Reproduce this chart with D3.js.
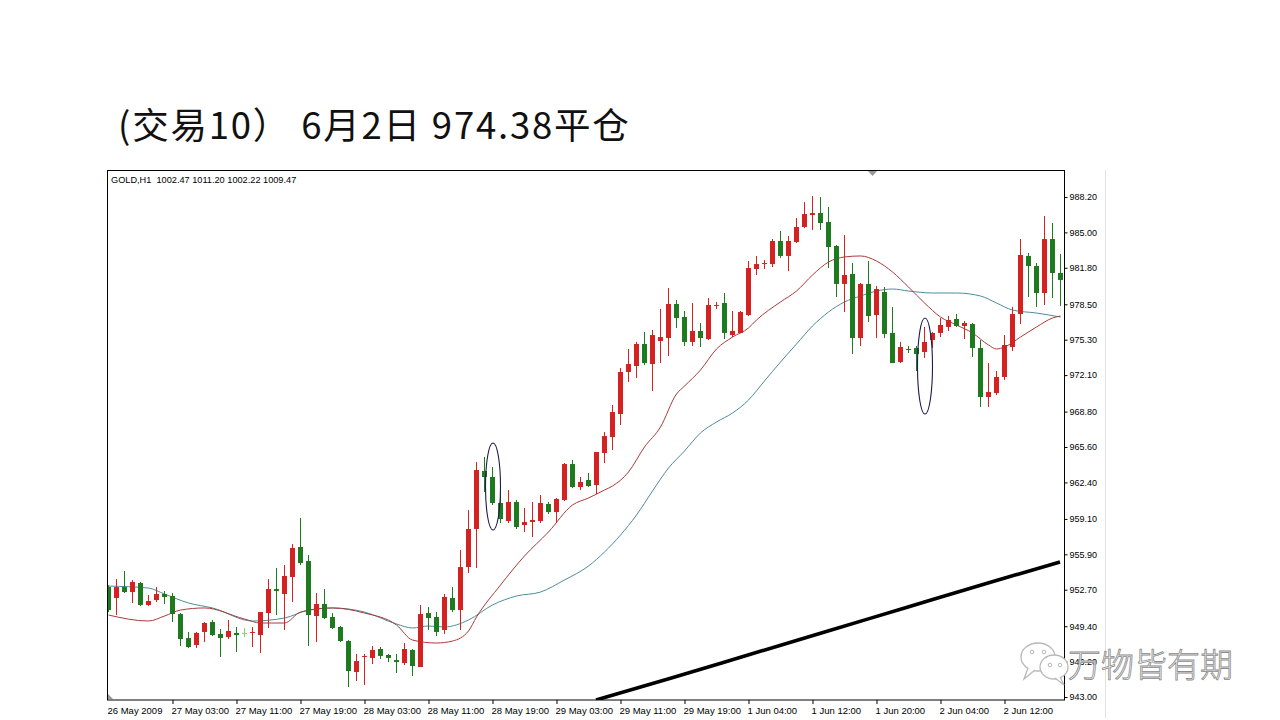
<!DOCTYPE html>
<html><head><meta charset="utf-8">
<script src="https://cdn.jsdelivr.net/npm/d3@7"></script>
<style>body{margin:0;background:#fff;} svg{display:block}</style>
</head><body><svg id="c" width="1280" height="720"></svg>
<script>
// ---- data (GOLD H1, bar index 0 = 26 May 2009 19:00) ----
const opens=[952.94,951.95,952.94,952.49,953.31,951.32,951.77,952.31,952.13,950.50,
948.33,947.70,948.88,949.78,948.70,948.42,948.79,948.80,948.83,948.60,
950.59,952.76,952.31,953.85,956.56,955.29,950.32,951.41,950.23,949.33,
948.06,945.26,946.62,946.53,947.34,946.80,946.34,946.07,947.25,945.71,
950.59,950.23,949.06,951.95,950.86,954.75,958.19,963.43,962.89,960.54,
958.91,960.63,958.55,958.82,958.91,960.45,959.72,960.81,964.06,961.98,
962.62,962.16,965.06,966.50,968.58,972.38,972.92,974.91,973.10,975.18,
975.45,978.53,977.35,975.10,976.09,975.36,978.35,978.62,975.72,975.91,
977.53,981.69,982.19,982.14,984.22,982.87,984.13,985.49,986.57,986.75,
985.94,983.77,980.34,981.24,975.45,980.34,977.53,979.61,975.91,973.28,
974.46,974.55,974.19,975.27,975.91,976.45,977.17,976.54,976.72,974.55,
970.12,970.48,971.93,974.64,977.62,982.87,981.96,979.52,984.40,981.33];
const highs=[953.10,953.67,954.39,953.58,953.40,952.22,952.94,952.58,952.40,950.59,
948.88,948.88,949.78,949.96,949.15,949.96,949.33,949.24,949.33,950.68,
953.67,954.66,954.93,956.83,959.18,955.84,952.40,952.76,950.59,949.42,
948.15,946.89,946.89,947.61,947.52,946.89,946.89,947.88,947.34,951.32,
951.14,950.68,952.31,952.94,956.29,959.90,964.24,964.70,963.79,961.80,
961.71,960.81,960.09,960.63,961.26,960.63,960.99,964.15,964.42,962.89,
963.25,965.15,966.96,969.40,972.74,974.46,975.10,976.00,976.18,978.08,
979.97,978.89,977.89,978.62,976.81,979.07,978.71,979.52,977.89,977.89,
982.41,982.87,982.50,984.40,985.13,984.67,986.30,987.75,988.28,988.19,
987.30,983.86,984.76,982.23,980.43,982.41,980.15,980.06,978.26,975.10,
974.73,974.73,976.45,976.00,977.26,977.44,977.62,976.99,976.81,975.27,
973.19,972.47,975.72,978.26,984.40,983.14,982.23,986.48,985.85,983.05];
const lows=[950.68,950.41,952.40,951.50,951.23,951.23,951.59,951.41,949.78,947.61,
947.43,947.43,947.97,948.51,946.62,948.24,947.07,948.42,947.52,946.98,
949.24,950.41,949.06,951.59,954.93,947.61,947.97,950.05,949.15,947.97,
943.90,944.45,944.08,945.98,946.44,946.16,945.17,945.89,944.90,945.71,
949.06,948.51,948.70,950.68,949.06,954.21,954.66,961.53,960.36,958.73,
958.73,958.19,957.92,957.46,958.73,959.54,958.73,960.72,961.89,961.71,
961.98,961.35,964.15,965.33,967.59,971.48,971.84,973.01,970.66,973.19,
973.83,976.36,974.73,974.73,974.64,975.27,978.08,975.36,975.54,975.91,
977.44,981.15,981.69,981.87,982.69,981.50,984.04,985.39,985.21,985.22,
981.78,979.16,977.80,974.01,974.73,976.90,975.45,975.45,973.19,973.19,
974.10,972.47,973.65,974.55,975.54,976.09,976.45,975.36,973.74,969.22,
969.22,970.30,971.66,974.28,976.72,979.16,978.26,978.44,979.07,978.35];
const closes=[950.86,952.94,952.49,953.40,951.32,951.68,952.31,952.04,950.50,948.24,
947.52,948.79,949.69,948.60,948.33,948.97,948.60,948.80,948.88,950.68,
952.76,952.58,953.94,956.47,955.11,950.41,951.41,950.14,949.24,948.06,
945.35,946.25,946.71,947.25,946.71,946.53,946.16,947.34,945.80,950.50,
950.14,948.88,952.04,950.86,954.75,958.19,963.52,962.89,960.54,959.09,
960.63,958.37,958.82,959.00,960.54,959.72,960.90,964.06,961.98,962.44,
962.07,965.15,966.59,968.76,972.38,973.10,974.91,973.19,975.72,975.54,
978.53,977.26,975.10,976.09,975.45,978.44,978.44,975.91,976.09,977.80,
981.78,982.14,982.23,984.22,982.87,984.22,985.49,986.66,986.75,985.85,
983.68,980.34,981.15,975.45,980.34,977.44,979.88,975.82,973.19,974.64,
974.37,974.01,975.10,975.91,976.63,977.08,976.54,976.81,974.55,970.12,
970.57,971.93,974.82,977.62,982.96,981.96,979.52,984.40,981.33,980.70];

// moving averages (bar index, price)
const maFastIdx=[0,5,7,9,12,17,19,22,24,28,32,36,38,41,43,45,46,49,52,55,58,60,62,63,65,67,69,71,72,74,76,78,80,81,84,86,88,90,92,94,96,98,100,102,104,106,108,110,111,112,114,116,118,119];
const maFast=[950.41,949.87,950.32,950.86,951.05,950.05,949.69,949.69,950.68,951.05,950.59,949.51,948.15,947.88,948.06,948.97,950.23,953.12,955.75,957.92,960.36,960.99,961.71,962.07,963.34,965.60,967.41,970.39,971.11,972.56,974.46,975.54,976.36,977.08,978.71,979.70,981.15,982.32,982.78,982.87,982.41,981.42,980.06,978.62,977.35,976.63,975.91,974.82,974.46,974.64,975.54,976.45,977.26,977.44];
const maSlowIdx=[0,5,7,10,13,18,22,25,28,32,36,38,40,42,45,48,51,54,57,60,62,64,66,68,70,72,74,76,78,80,82,84,86,88,90,92,94,96,98,100,103,106,109,111,113,116,119];
const maSlow=[953.03,952.85,952.31,951.50,951.05,949.87,950.14,950.86,951.05,950.68,949.60,949.24,949.42,949.33,949.96,951.32,952.13,952.49,953.58,954.84,956.11,957.64,959.45,961.62,963.70,965.24,966.87,967.86,968.67,969.85,971.57,973.28,974.91,976.54,977.80,978.71,979.25,979.70,979.88,979.70,979.52,979.52,979.25,978.62,977.98,977.71,977.35];
const maLongIdx=[61,70,80,90,100,110,119];
const maLong=[942.73,944.63,946.80,948.97,951.14,953.31,955.20];

const yTicks=[988.20,985.00,981.80,978.50,975.30,972.10,968.80,965.60,962.40,959.10,955.90,952.70,949.40,946.20,943.00];
const xTickIdx=[0,8,16,24,32,40,48,56,64,72,80,88,96,104,112];
const xTickLabels=["26 May 2009","27 May 03:00","27 May 11:00","27 May 19:00","28 May 03:00","28 May 11:00","28 May 19:00","29 May 03:00","29 May 11:00","29 May 19:00","1 Jun 04:00","1 Jun 12:00","1 Jun 20:00","2 Jun 04:00","2 Jun 12:00"];
const markIdx=[48,102];
const markTop=[965.96,977.26];
const markBottom=[958.10,968.58];

const titleText="(交易10） 6月2日 974.38平仓";
const headerText="GOLD,H1  1002.47 1011.20 1002.22 1009.47";
const watermarkText="万物皆有期";

// ---- layout ----
const L=107,R=1065,T=170,B=700;
const svg=d3.select("#c");
const x=d3.scaleLinear().domain([0,119]).range([108,1060]);
const y=d3.scaleLinear().domain([942.73,990.64]).range([B,T]);

svg.append("text").attr("x",118).attr("y",139)
  .attr("font-family","'Noto Sans CJK SC','Noto Sans',sans-serif")
  .attr("font-size",36.5).attr("letter-spacing",1.8).attr("fill","#111").text(titleText);

svg.append("defs").append("clipPath").attr("id","plot")
  .append("rect").attr("x",L).attr("y",T).attr("width",R-L).attr("height",B-T);

// right border of the axis panel
svg.append("line").attr("x1",1105.5).attr("x2",1105.5).attr("y1",T).attr("y2",B+18).attr("stroke","#e2e2e2");

const plot=svg.append("g").attr("clip-path","url(#plot)");

const line=d3.line().curve(d3.curveMonotoneX);
plot.append("path").attr("d",line(maLongIdx.map((k,i)=>[x(k),y(maLong[i])])))
  .attr("fill","none").attr("stroke","#000").attr("stroke-width",3.6);
plot.append("path").attr("d",line(maSlowIdx.map((k,i)=>[x(k)+0.5,y(maSlow[i])])))
  .attr("fill","none").attr("stroke","#4a8c9c").attr("stroke-width",1);
plot.append("path").attr("d",line(maFastIdx.map((k,i)=>[x(k)+0.5,y(maFast[i])])))
  .attr("fill","none").attr("stroke","#a83a3a").attr("stroke-width",1);

const data=opens.map((o,i)=>({i,o,h:highs[i],l:lows[i],c:closes[i]}));
const col=d=>d.c>d.o?"#d42222":(d.c<d.o?"#1e7a1e":"#7fd07f");
const cg=plot.selectAll("g.c").data(data).join("g");
cg.append("rect").attr("x",d=>Math.round(x(d.i))).attr("width",1)
  .attr("y",d=>y(d.h)).attr("height",d=>Math.max(1,y(d.l)-y(d.h))).attr("fill",col);
cg.append("rect").attr("x",d=>Math.round(x(d.i))-2).attr("width",5)
  .attr("y",d=>y(Math.max(d.o,d.c))).attr("height",d=>Math.max(1,Math.abs(y(d.o)-y(d.c))))
  .attr("fill",col);

// annotation ellipses
markIdx.forEach((k,i)=>{
  const y1=y(markTop[i]),y2=y(markBottom[i]);
  plot.append("ellipse").attr("cx",x(k)+1).attr("cy",(y1+y2)/2).attr("rx",7.5).attr("ry",(y2-y1)/2)
    .attr("fill","none").attr("stroke","#1c1c50").attr("stroke-width",1.1);
});

// frame
svg.append("rect").attr("x",L+0.5).attr("y",T+0.5).attr("width",R-L-1).attr("height",B-T-0.5)
  .attr("fill","none").attr("stroke","#000");

// shift markers
svg.append("path").attr("d",`M868,${T+1}L877,${T+1}L872.5,${T+6}Z`).attr("fill","#999");
svg.append("path").attr("d",`M${L+1},${B-6}L${L+1},${B-1}L${L+6},${B-1}Z`).attr("fill","#999");

// header
svg.append("text").attr("x",111).attr("y",183).attr("font-family","'Liberation Sans',Arial,sans-serif")
  .attr("font-size",9.2).attr("fill","#000").style("white-space","pre").text(headerText);

// axes
const ya=svg.append("g").attr("transform",`translate(${R-0.5},0)`)
  .call(d3.axisRight(y).tickValues(yTicks).tickSize(3).tickPadding(2).tickFormat(d3.format(".2f")));
ya.select(".domain").remove();
ya.selectAll("text").attr("font-family","'Liberation Sans',Arial,sans-serif").attr("font-size",9).attr("fill","#000");

const xa=svg.append("g").attr("transform",`translate(0,${B})`)
  .call(d3.axisBottom(x).tickValues(xTickIdx).tickSize(4).tickPadding(3).tickFormat((d,i)=>xTickLabels[i]));
xa.select(".domain").remove();
xa.selectAll(".tick line").attr("transform","translate(0.5,0)").filter(d=>d===0).remove();
xa.selectAll("text").attr("text-anchor","start").attr("x",-1)
  .attr("font-family","'Liberation Sans',Arial,sans-serif").attr("font-size",9.5).attr("fill","#000");

// watermark
const wm=svg.append("g");
wm.append("ellipse").attr("cx",1038).attr("cy",657).attr("rx",17).attr("ry",14).attr("fill","#fff").attr("stroke","#b8b8b8").attr("stroke-width",1.3);
wm.append("path").attr("d","M1028,668 L1024,679 L1035,670").attr("fill","#fff").attr("stroke","#b8b8b8").attr("stroke-width",1.3);
wm.append("ellipse").attr("cx",1054).attr("cy",667).attr("rx",14).attr("ry",12).attr("fill","#fff").attr("stroke","#b8b8b8").attr("stroke-width",1.3);
wm.append("path").attr("d","M1060,677 L1064,685 L1055,678").attr("fill","#fff").attr("stroke","#b8b8b8").attr("stroke-width",1.3);
[[1032,652],[1044,652],[1050,665],[1060,665]].forEach(p=>wm.append("circle").attr("cx",p[0]).attr("cy",p[1]).attr("r",1.8).attr("fill","none").attr("stroke","#b8b8b8"));
wm.append("text").attr("x",1068).attr("y",677).attr("font-family","'Noto Sans CJK SC',sans-serif")
  .attr("font-size",33).attr("font-weight",300).attr("fill","#fbfbfb").attr("stroke","#8a8a8a").attr("stroke-width",0.8)
  .text(watermarkText);
</script></body></html>
